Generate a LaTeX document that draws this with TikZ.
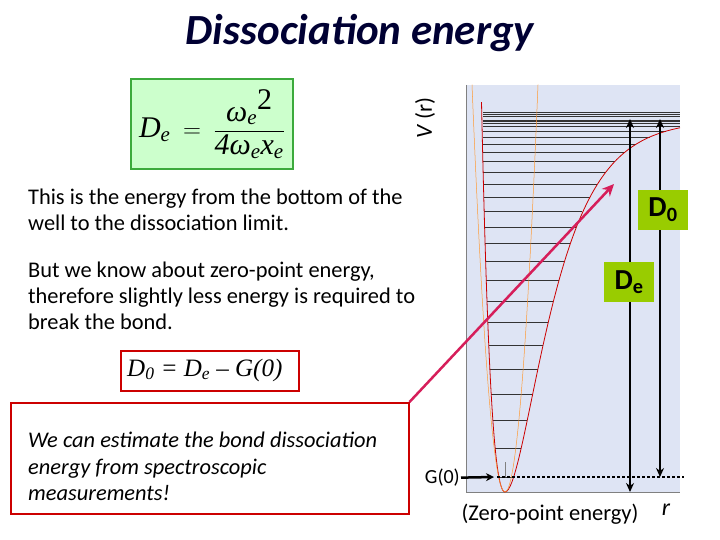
\documentclass[tikz,border=0pt]{standalone}
\usepackage{fontspec}
\setmainfont{Carlito}
\newfontfamily\tms{Liberation Serif}
\usetikzlibrary{arrows.meta}
\definecolor{panel}{RGB}{222,228,244}
\definecolor{lbox}{RGB}{153,204,0}
\definecolor{mag}{RGB}{214,30,90}
\definecolor{fgreen}{RGB}{204,255,204}
\definecolor{fborder}{RGB}{60,170,60}
\tikzset{
 txt/.style={align=left,anchor=north west,font=\fontsize{22.4}{26}\selectfont,inner sep=0pt},
 lbl/.style={fill=lbox,font=\fontsize{29}{29}\selectfont\bfseries,minimum width=50pt,minimum height=40pt,inner sep=0pt},
 bar/.style={line width=2.5pt,{Stealth[length=9pt,width=8pt]}-{Stealth[length=9pt,width=8pt]}},
 lev/.style={line width=0.6pt,black!80}
}
\begin{document}
\begin{tikzpicture}[x=1pt,y=-1pt]
\useasboundingbox (0,0) rectangle (720,540);
\node[font=\fontsize{43}{43}\selectfont\bfseries\itshape,text=black!80!blue] (title) at (360,33) {Dissociation energy};
% formula
\node[draw=fborder,line width=2.5pt,fill=fgreen,minimum width=162pt,minimum height=90pt,inner sep=0pt,font=\tms\itshape\fontsize{30}{30}\selectfont] (form) at (212,124)
 {D\textsubscript{e}\ \,$=$\ \,$\displaystyle\frac{\mbox{\tms\itshape\fontsize{30}{30}\selectfont ω\textsubscript{e}\raisebox{12pt}{\upshape 2}}}{\mbox{\tms\fontsize{30}{30}\selectfont 4\itshape ω\textsubscript{e}x\textsubscript{e}}}$};
\node[rotate=90,font=\fontsize{23}{23}\selectfont] (vr) at (425,118) {\itshape V\upshape\ (r)};
% panel
\fill[panel] (466,85) rectangle (680,492);
\draw[black!50,line width=1pt] (466,85) -- (466,492) -- (680,492);
% levels
\foreach \v in {0,...,24}{
  \pgfmathsetmacro{\u}{\v+0.5}
  \pgfmathsetmacro{\E}{30*\u-0.605*\u*\u}
  \pgfmathsetmacro{\s}{sqrt(min(\E/372,0.995))}
  \pgfmathsetmacro{\xr}{min(680,505-ln(1-\s)/0.026)}
  \pgfmathsetmacro{\xl}{max(483,505-ln(1+\s)/0.03)}
  \draw[lev] (\xl,{492-\E}) -- (\xr,{492-\E});
}
\foreach \yy in {116,114,112}{\draw[lev] (483,\yy) -- (680,\yy);}
% curves
\draw[red!80!black,line width=0.8pt] plot[domain=481.5:505,samples=40,smooth] (\x,{492-372*(1-exp(-0.03*(\x-505)))^2});
\draw[red!80!black,line width=0.8pt] plot[domain=505:680,samples=100,smooth] (\x,{492-372*(1-exp(-0.026*(\x-505)))^2});
\draw[orange!80,line width=0.5pt] plot[domain=472:538,samples=60,smooth] (\x,{492-0.374*(\x-505)^2});
\draw[gray] (505,462) -- (505,477);
% dotted line & arrows
\coordinate (zl) at (497,477); \coordinate (zr) at (684,477);
\draw[line width=2.5pt,dash pattern=on 3pt off 2pt] (zl) -- (zr);
\coordinate (det) at (630,119); \coordinate (deb) at (630,492);
\coordinate (d0t) at (660,119); \coordinate (d0b) at (660,477);
\draw[bar] (det) -- (deb);
\draw[bar] (d0t) -- (d0b);
\node[lbl] (d0) at (663,210) {D\textsubscript{0}};
\node[lbl] (de) at (629,282) {D\textsubscript{e}};
% G(0)
\node[font=\fontsize{20}{20}\selectfont,anchor=east,inner sep=1pt] (g0) at (461,478) {G(0)};
\coordinate (g0e) at (494,477);
\draw[line width=2.5pt,-{Stealth[length=8pt,width=8pt]}] (g0) -- (g0e);
\node[font=\fontsize{22.5}{22.5}\selectfont] (zpe) at (550,514) {(Zero-point energy)};
\node[font=\fontsize{24}{24}\selectfont\itshape] (r) at (666,510) {r};
% texts
\node[txt] (t1) at (28,189) {This is the energy from the bottom of the\\well to the dissociation limit.};
\node[txt] (t2) at (28,262) {But we know about zero-point energy,\\therefore slightly less energy is required to\\break the bond.};
\node[draw=red!80!black,line width=1.5pt,fill=white,minimum width=178pt,minimum height=40pt,anchor=north west] (eq) at (120,350) {};
\node[anchor=west,font=\tms\itshape\fontsize{25}{25}\selectfont,inner sep=0pt] (eqt) at (127,370) {D\textsubscript{0} = D\textsubscript{e} – G(0)};
\node[draw=red!80!black,line width=1.5pt,fill=white,minimum width=398pt,minimum height=111pt,anchor=north west] (est) at (10,402) {};
\node[txt,font=\fontsize{22.4}{26.5}\selectfont\itshape] (estt) at (28,432) {We can estimate the bond dissociation\\energy from spectroscopic\\measurements!};
\coordinate (tip) at (614,184);
\draw[mag,line width=2.5pt,-{Stealth[length=12pt,width=11pt]}] (est.north east) -- (tip);
\end{tikzpicture}
\end{document}
